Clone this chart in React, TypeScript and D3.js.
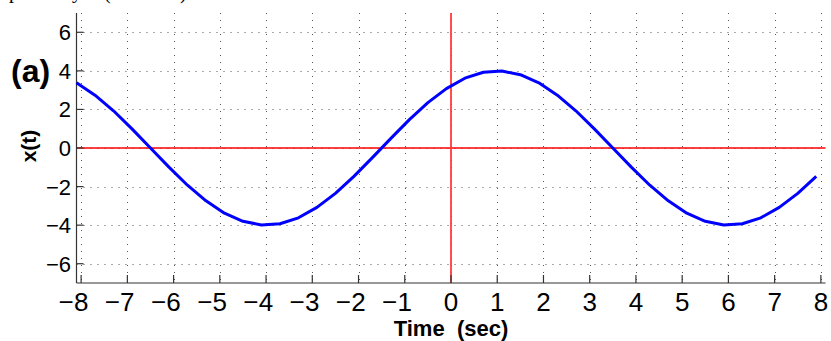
import React from 'react';
import * as d3 from 'd3';

const times = [
  -8.1, -7.7, -7.3, -6.9, -6.5, -6.1, -5.7, -5.3, -4.9, -4.5, -4.1,
  -3.7, -3.3, -2.9, -2.5, -2.1, -1.7, -1.3, -0.9, -0.5, -0.1,
  0.3, 0.7, 1.1, 1.5, 1.9, 2.3, 2.7, 3.1, 3.5, 3.9,
  4.3, 4.7, 5.1, 5.5, 5.9, 6.3, 6.7, 7.1, 7.5, 7.9,
];
const values = [
  3.38, 2.74, 1.93, 0.99, 0.0, -0.99, -1.93, -2.74, -3.38, -3.8, -3.99,
  -3.93, -3.62, -3.08, -2.35, -1.47, -0.5, 0.5, 1.47, 2.35, 3.08,
  3.62, 3.93, 3.99, 3.8, 3.38, 2.74, 1.93, 0.99, 0.0, -0.99,
  -1.93, -2.74, -3.38, -3.8, -3.99, -3.93, -3.62, -3.08, -2.35, -1.47,
];
const xTicks = [-8, -7, -6, -5, -4, -3, -2, -1, 0, 1, 2, 3, 4, 5, 6, 7, 8];
const yTicks = [-6, -4, -2, 0, 2, 4, 6];

const width = 831;
const height = 341;
const font = '"Liberation Sans", Arial, Helvetica, sans-serif';

const App: React.FC = () => {
  const x = d3.scaleLinear().domain([-8.1, 8.1]).range([76.5, 825.5]);
  const y = d3.scaleLinear().domain([-7, 7]).range([283, 13]);
  const [x0, x1] = x.range();
  const [yb, yt] = y.range();

  const line = d3.line<number>()
    .x((_, i) => x(times[i]))
    .y(d => y(d));

  return (
    <svg width={width} height={height} style={{ position: 'absolute', left: 0, top: 0, background: '#fff' }}>
      {/* clipped text from the page above */}
      <g fontFamily='"Liberation Serif", "Times New Roman", serif' fontSize={20} fill="#000">
        <text x={9} y={-2}>p</text>
        <text x={72} y={-2}>y</text>
        <text x={104} y={-1}>(</text>
        <text x={180} y={-1}>)</text>
      </g>

      {/* grid */}
      <g stroke="#555" strokeWidth={1} strokeDasharray="1,6">
        {xTicks.map(t => (
          <line key={'gx' + t} x1={Math.round(x(t)) + 0.5} x2={Math.round(x(t)) + 0.5} y1={yt} y2={yb} />
        ))}
        {yTicks.map(v => (
          <line key={'gy' + v} x1={x0} x2={x1} y1={Math.round(y(v)) + 0.5} y2={Math.round(y(v)) + 0.5} />
        ))}
      </g>

      {/* zero lines */}
      <line x1={x0} x2={x1} y1={y(0)} y2={y(0)} stroke="#ff0000" strokeWidth={1.5} />
      <line x1={x(0)} x2={x(0)} y1={yt} y2={yb} stroke="#ff3c3c" strokeWidth={1.8} />

      {/* axes */}
      <g stroke="#333" strokeWidth={1.2}>
        <line x1={x0} x2={x0} y1={yt} y2={yb} />
        <line x1={x0} x2={x1} y1={yb} y2={yb} />
        {xTicks.map(t => (
          <line key={'tx' + t} x1={x(t)} x2={x(t)} y1={yb} y2={yb - 8} />
        ))}
        {yTicks.map(v => (
          <line key={'ty' + v} x1={x0} x2={x0 + 7} y1={y(v)} y2={y(v)} />
        ))}
      </g>

      {/* signal */}
      <path d={line(values) || ''} fill="none" stroke="#0000ff" strokeWidth={3} strokeLinejoin="round" />

      {/* tick labels */}
      <g fontFamily={font} fontSize={26} fill="#000">
        {xTicks.map(t => (
          <g key={'lx' + t}>
            <text x={x(t)} y={311} textAnchor="middle">{Math.abs(t)}</text>
            {t < 0 && <text x={x(t) - 7.5} y={311} textAnchor="end">{'\u2212'}</text>}
          </g>
        ))}
      </g>
      <g fontFamily={font} fontSize={22} fill="#000">
        {yTicks.map(v => (
          <text key={'ly' + v} x={71} y={y(v) + 8} textAnchor="end">
            {v < 0 ? '\u2212' + Math.abs(v) : String(v)}
          </text>
        ))}
      </g>

      {/* titles */}
      <text x={451} y={336} textAnchor="middle" fontFamily={font} fontSize={22} fontWeight="bold" style={{ whiteSpace: 'pre' }}>
        {'Time  (sec)'}
      </text>
      <text transform="translate(36,146) rotate(-90)" textAnchor="middle" fontFamily={font} fontSize={21} fontWeight="bold">
        x(t)
      </text>
      <text x={11} y={82} fontFamily={font} fontSize={32} fontWeight="bold">(a)</text>
    </svg>
  );
};

export default App;
